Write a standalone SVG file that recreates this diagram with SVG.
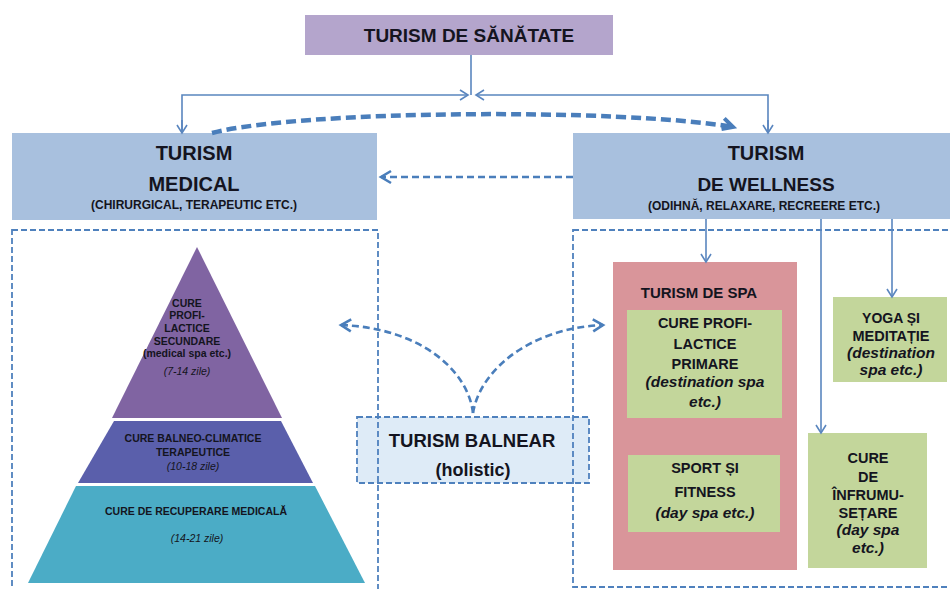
<svg xmlns="http://www.w3.org/2000/svg" width="950" height="589" viewBox="0 0 950 589">
<defs>
<style>
.t{font-family:"Liberation Sans",Arial,sans-serif;font-weight:bold;text-anchor:middle;fill:#141420}
.i{font-style:italic}
.ln{fill:none;stroke:#5a86bf;stroke-width:1.6}
.dsh{fill:none;stroke:#4a7ebb;stroke-dasharray:7 4;stroke-width:2.6}
.thick{stroke-width:4.5;stroke-dasharray:10 5}
.frame{fill:none;stroke:#4f81bd;stroke-width:1.8;stroke-dasharray:6 3}
.blue{fill:#a8c0de}
.green{fill:#c3d69b}
</style>
<marker id="a" markerWidth="12" markerHeight="12" refX="9" refY="6" orient="auto" markerUnits="userSpaceOnUse">
<path d="M1,1 L9,6 L1,11" fill="none" stroke="#5a86bf" stroke-width="1.6"/>
</marker>
<marker id="ad" markerWidth="16" markerHeight="16" refX="12" refY="8" orient="auto" markerUnits="userSpaceOnUse">
<path d="M2,2 L12,8 L2,14" fill="none" stroke="#4a7ebb" stroke-width="2.6"/>
</marker>
<marker id="at" markerWidth="20" markerHeight="20" refX="14" refY="10" orient="auto" markerUnits="userSpaceOnUse">
<path d="M4,3 L14,10 L3,14" fill="none" stroke="#4a7ebb" stroke-width="4"/>
</marker>
</defs>
<rect width="950" height="589" fill="#ffffff"/>

<g id="sanatate">
<rect x="305" y="15" width="308" height="40" fill="#b4a5cc"/>
<text class="t" x="469" y="42" font-size="19">TURISM DE SĂNĂTATE</text>
</g>

<g id="medical">
<rect class="blue" x="12" y="133" width="365" height="87"/>
<text class="t" x="194" y="160" font-size="20">TURISM</text>
<text class="t" x="194" y="191" font-size="20">MEDICAL</text>
<text class="t" x="194" y="209" font-size="12">(CHIRURGICAL, TERAPEUTIC ETC.)</text>
</g>

<g id="wellness">
<rect class="blue" x="573" y="133" width="390" height="86"/>
<text class="t" x="766" y="160" font-size="20">TURISM</text>
<text class="t" x="766" y="191" font-size="19">DE WELLNESS</text>
<text class="t" x="764" y="210" font-size="12">(ODIHNĂ, RELAXARE, RECREERE ETC.)</text>
</g>

<g id="balnear">
<rect x="357" y="417" width="232" height="66" fill="#deebf7" stroke="#4f81bd" stroke-width="1.8" stroke-dasharray="6 3"/>
<text class="t" x="472" y="447" font-size="18.5">TURISM BALNEAR</text>
<text class="t" x="473" y="476" font-size="18">(holistic)</text>
</g>

<g id="pyramid">
<polygon points="197,247 282,418 112,418" fill="#8064a2"/>
<polygon points="114,421 281,421 313,483 78,483" fill="#5a5fab"/>
<polygon points="76,486 315,486 365,583 28,583" fill="#4bacc6"/>
<g class="t" font-size="10.5" fill="#1c1c30">
<text x="187" y="307">CURE</text>
<text x="187" y="319">PROFI-</text>
<text x="187" y="332">LACTICE</text>
<text x="187" y="345">SECUNDARE</text>
<text x="187" y="357">(medical spa etc.)</text>
<text class="i" x="187" y="375" font-weight="normal">(7-14 zile)</text>
<text x="193" y="442">CURE BALNEO-CLIMATICE</text>
<text x="193" y="456">TERAPEUTICE</text>
<text class="i" x="193" y="470" font-weight="normal">(10-18 zile)</text>
<text x="196" y="515">CURE DE RECUPERARE MEDICALĂ</text>
<text class="i" x="197" y="542" font-weight="normal">(14-21 zile)</text>
</g>
</g>

<g id="spa">
<rect x="613" y="262" width="184" height="308" fill="#d9959a"/>
<text class="t" x="699" y="298" font-size="15" fill="#3a1818">TURISM DE SPA</text>
</g>

<g id="profilactice-primare">
<rect class="green" x="627" y="310" width="155" height="108"/>
<text class="t" x="705" y="328" font-size="14.5">CURE PROFI-</text>
<text class="t" x="705" y="349" font-size="14.5">LACTICE</text>
<text class="t" x="705" y="369" font-size="14.5">PRIMARE</text>
<text class="t i" x="705" y="387" font-size="15.5">(destination spa</text>
<text class="t i" x="705" y="407" font-size="15.5">etc.)</text>
</g>

<g id="sport">
<rect class="green" x="628" y="455" width="152" height="77"/>
<text class="t" x="705" y="473" font-size="14.5">SPORT ȘI</text>
<text class="t" x="705" y="497" font-size="14.5">FITNESS</text>
<text class="t i" x="705" y="518" font-size="15.5">(day spa etc.)</text>
</g>

<g id="yoga">
<rect class="green" x="833" y="297" width="114" height="85"/>
<text class="t" x="891" y="323" font-size="14">YOGA ȘI</text>
<text class="t" x="891" y="341" font-size="14.5">MEDITAȚIE</text>
<text class="t i" x="891" y="358" font-size="15.5">(destination</text>
<text class="t i" x="891" y="375" font-size="15.5">spa etc.)</text>
</g>

<g id="infrumusetare">
<rect class="green" x="808" y="433" width="119" height="135"/>
<text class="t" x="868" y="463" font-size="14.5">CURE</text>
<text class="t" x="868" y="482" font-size="14.5">DE</text>
<text class="t" x="868" y="500" font-size="14.5">ÎNFRUMU-</text>
<text class="t" x="868" y="518" font-size="14.5">SEȚARE</text>
<text class="t i" x="868" y="535" font-size="15.5">(day spa</text>
<text class="t i" x="868" y="553" font-size="15.5">etc.)</text>
</g>

<g id="frames">
<rect class="frame" x="12" y="230" width="366" height="370"/>
<rect class="frame" x="573" y="230" width="400" height="357"/>
</g>

<g id="connectors">
<line class="ln" x1="471" y1="55" x2="471" y2="95"/>
<polyline class="ln" points="182,133 182,95 468,95" marker-end="url(#a)"/>
<polyline class="ln" points="768,133 768,95 476,95" marker-end="url(#a)"/>
<line class="ln" x1="182" y1="120" x2="182" y2="133" marker-end="url(#a)"/>
<line class="ln" x1="768" y1="120" x2="768" y2="133" marker-end="url(#a)"/>
<path class="dsh thick" d="M212,133 C300,110 620,108 733,127" marker-end="url(#at)"/>
<line class="dsh" x1="573" y1="177" x2="381" y2="177" marker-end="url(#ad)"/>
<path class="dsh" d="M473,413 C468,370 420,328 341,325" marker-end="url(#ad)"/>
<path class="dsh" d="M473,413 C480,370 530,328 603,325" marker-end="url(#ad)"/>
<line class="ln" x1="706" y1="219" x2="706" y2="262" marker-end="url(#a)"/>
<line class="ln" x1="821" y1="219" x2="821" y2="433" marker-end="url(#a)"/>
<line class="ln" x1="892" y1="219" x2="892" y2="297" marker-end="url(#a)"/>
</g>
</svg>
